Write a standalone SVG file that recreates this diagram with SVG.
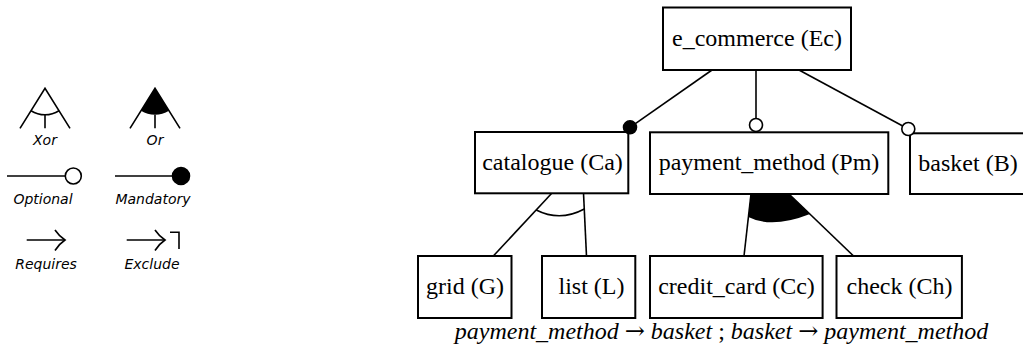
<svg xmlns="http://www.w3.org/2000/svg" width="1023" height="356" viewBox="0 0 1023 356">
<style>
.box{fill:#fff;stroke:#000;stroke-width:2}
.lbl{font-family:"Liberation Serif","Times New Roman",serif;font-size:24px;fill:#000;text-anchor:middle}
.ln{stroke:#000;stroke-width:1.6;fill:none}
.lg{font-family:"DejaVu Sans",sans-serif;font-style:italic;font-size:14px;fill:#000;text-anchor:middle}
.opt{fill:#fff;stroke:#000;stroke-width:1.6}
.man{fill:#000;stroke:#000;stroke-width:1.6}
.arr{font-family:"DejaVu Serif",serif;font-style:normal}
</style>
<rect width="1023" height="356" fill="#fff"/>
<g id="legend">
  <g id="legend-xor">
    <path class="ln" d="M20 128.3 L45 88.3 L70 128.3"/>
    <path class="ln" d="M31 110.7 A26.4 26.4 0 0 0 59 110.7"/>
    <line class="ln" x1="45" y1="114.7" x2="45" y2="128.3"/>
    <text class="lg" x="45" y="145">Xor</text>
  </g>
  <g id="legend-or">
    <path d="M155 88.3 L141 110.7 A26.4 26.4 0 0 0 169 110.7 Z" fill="#000"/>
    <path class="ln" d="M130 128.3 L155 88.3 L180 128.3"/>
    <line class="ln" x1="155" y1="114.7" x2="155" y2="128.3"/>
    <text class="lg" x="155" y="145">Or</text>
  </g>
  <g id="legend-optional">
    <line class="ln" x1="7" y1="176" x2="65" y2="176"/>
    <circle class="opt" cx="73.3" cy="176" r="8"/>
    <text class="lg" x="43" y="204">Optional</text>
  </g>
  <g id="legend-mandatory">
    <line class="ln" x1="115" y1="176" x2="172" y2="176"/>
    <circle class="man" cx="181" cy="176" r="8.5"/>
    <text class="lg" x="153" y="204">Mandatory</text>
  </g>
  <g id="legend-requires">
    <line class="ln" x1="26.7" y1="240" x2="64.5" y2="240"/>
    <path class="ln" d="M55 230 Q59 236 65 240 Q59 244 55 250.5"/>
    <text class="lg" x="46" y="269">Requires</text>
  </g>
  <g id="legend-exclude">
    <line class="ln" x1="126.7" y1="240" x2="164.5" y2="240"/>
    <path class="ln" d="M155 230 Q159 236 165 240 Q159 244 155 250.5"/>
    <path class="ln" d="M170 232.3 L179 232.3 L179 249"/>
    <text class="lg" x="152" y="269">Exclude</text>
  </g>
</g>
<g id="connectors">
  <line class="ln" x1="712" y1="70" x2="630" y2="127.3"/>
  <line class="ln" x1="756" y1="70" x2="756" y2="125"/>
  <line class="ln" x1="799" y1="70" x2="908.3" y2="129"/>
  <line class="ln" x1="552" y1="193" x2="493.3" y2="256"/>
  <line class="ln" x1="583.5" y1="193" x2="586.5" y2="256"/>
  <path class="ln" d="M536.2 210 Q560 222 584.3 209"/>
  <path d="M751 194 L748.3 217 Q772 229 810 214 L789 194 Z" fill="#000"/>
  <line class="ln" x1="751" y1="194" x2="744" y2="256"/>
  <line class="ln" x1="789" y1="194" x2="853.6" y2="256"/>
</g>
<g id="node-ec">
  <rect class="box" x="663" y="7.5" width="188" height="62.5"/>
  <text class="lbl" x="757" y="46">e_commerce (Ec)</text>
</g>
<g id="node-ca">
  <rect class="box" x="475" y="132" width="153.3" height="61.3"/>
  <text class="lbl" x="552.5" y="169.5">catalogue (Ca)</text>
</g>
<g id="node-pm">
  <rect class="box" x="650" y="132.3" width="238.3" height="61.7"/>
  <text class="lbl" x="769" y="169.5">payment_method (Pm)</text>
</g>
<g id="node-b">
  <rect class="box" x="910" y="133.3" width="120" height="60.7"/>
  <text class="lbl" x="968" y="171">basket (B)</text>
</g>
<g id="node-g">
  <rect class="box" x="418" y="256" width="93.5" height="62"/>
  <text class="lbl" x="465" y="293.5">grid (G)</text>
</g>
<g id="node-l">
  <rect class="box" x="542" y="256" width="93.3" height="62"/>
  <text class="lbl" x="591.5" y="293.5">list (L)</text>
</g>
<g id="node-cc">
  <rect class="box" x="650" y="256" width="172.6" height="62"/>
  <text class="lbl" x="736.5" y="293.5">credit_card (Cc)</text>
</g>
<g id="node-ch">
  <rect class="box" x="836.5" y="256" width="125.4" height="62"/>
  <text class="lbl" x="899.5" y="293.5">check (Ch)</text>
</g>
<g id="markers">
  <circle class="man" cx="630" cy="127.3" r="6.5"/>
  <circle class="opt" cx="756" cy="125" r="6.5"/>
  <circle class="opt" cx="908.3" cy="129" r="6.5"/>
</g>
<text class="lbl" x="721.5" y="339" font-style="italic">payment_method <tspan class="arr">→</tspan> basket <tspan font-style="normal">;</tspan> basket <tspan class="arr">→</tspan> payment_method</text>
</svg>
